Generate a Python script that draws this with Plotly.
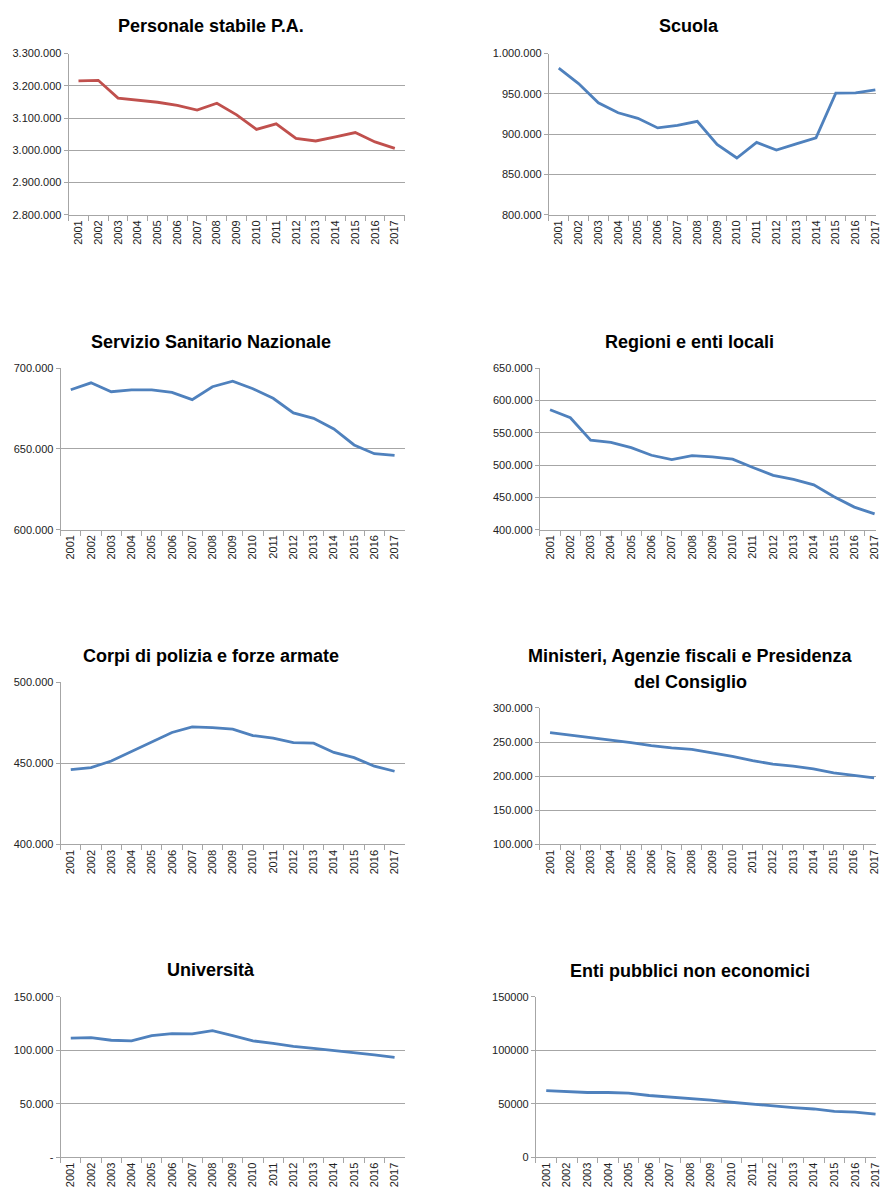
import plotly.graph_objects as go

W, H = 881, 1193

years = [str(y) for y in range(2001, 2018)]

titles = [
    ["Personale stabile P.A."],
    ["Scuola"],
    ["Servizio Sanitario Nazionale"],
    ["Regioni e enti locali"],
    ["Corpi di polizia e forze armate"],
    ["Ministeri, Agenzie fiscali e Presidenza", "del Consiglio"],
    ["Università"],
    ["Enti pubblici non economici"],
]

personale = [3215000, 3217000, 3162000, 3155000, 3149000, 3139000, 3125000, 3146000, 3110000,
             3065000, 3082000, 3037000, 3029000, 3042000, 3055000, 3026000, 3006000]
scuola = [982000, 962700, 939000, 926600, 919700, 907800, 911000, 916000, 887300,
          870500, 889800, 880300, 888000, 895500, 950800, 951200, 955000]
ssn = [686700, 691000, 685500, 686700, 686700, 685100, 680600, 688600, 692000,
       687300, 681400, 672400, 669000, 662400, 652500, 647100, 646000]
regioni = [585700, 573500, 538800, 535200, 527000, 515300, 508700, 514800, 512800,
           509200, 496400, 484200, 478000, 469400, 451000, 435000, 424500]
polizia = [446100, 447300, 451400, 457100, 463100, 469000, 472400, 472000, 471000,
           467100, 465500, 462700, 462400, 456700, 453500, 448200, 445100]
ministeri = [263600, 260200, 256300, 252400, 249000, 244700, 241300, 239300, 234500,
             229100, 222800, 217500, 214600, 210700, 204900, 201000, 197500]
universita = [111400, 112000, 109500, 108900, 113800, 115700, 115400, 118500, 113800,
              108900, 106500, 103700, 101800, 100000, 97800, 95700, 93500]
enti = [62300, 61500, 60600, 60600, 60000, 57800, 56500, 54600, 53400,
        51500, 49600, 48000, 46500, 45200, 43000, 42200, 40300]

series = [personale, scuola, ssn, regioni, polizia, ministeri, universita, enti]

yticks_vals = [
    [2800000, 2900000, 3000000, 3100000, 3200000, 3300000],
    [800000, 850000, 900000, 950000, 1000000],
    [600000, 650000, 700000],
    [400000, 450000, 500000, 550000, 600000, 650000],
    [400000, 450000, 500000],
    [100000, 150000, 200000, 250000, 300000],
    [0, 50000, 100000, 150000],
    [0, 50000, 100000, 150000],
]
yticks_text = [
    ["2.800.000", "2.900.000", "3.000.000", "3.100.000", "3.200.000", "3.300.000"],
    ["800.000", "850.000", "900.000", "950.000", "1.000.000"],
    ["600.000", "650.000", "700.000"],
    ["400.000", "450.000", "500.000", "550.000", "600.000", "650.000"],
    ["400.000", "450.000", "500.000"],
    ["100.000", "150.000", "200.000", "250.000", "300.000"],
    ["-", "50.000", "100.000", "150.000"],
    ["0", "50000", "100000", "150000"],
]

colors = ["#C0504D"] + ["#4F81BD"] * 7

# layout (pixels): x-left, x-right, y-top, y-bottom, category width, title x, title line y's
boxes = [
    (69, 407, 48, 211, None, 212, [20]),
    (552, 881, 48, 211, 19.9, 693, [20]),
    (61, 407, 366, 529, None, 212, [339]),
    (543, 881, 366, 529, 20.4, 693, [339]),
    (61, 407, 683, 847, None, 212, [657]),
    (543, 881, 709, 847, 20.37, 694, [657, 683]),
    (61, 407, 1001, 1163, None, 212, [974]),
    (539, 881, 1001, 1163, 20.7, 694, [975]),
]

fig = go.Figure()
font = "Liberation Sans, Arial, Helvetica, sans-serif"
grid = "#A6A6A6"

for i, (x0, x1, y0, y1, cw, tx, tys) in enumerate(boxes):
    n = i + 1
    xa = "x" if n == 1 else f"x{n}"
    ya = "y" if n == 1 else f"y{n}"
    fig.add_trace(go.Scatter(x=years, y=series[i], mode="lines",
                             line=dict(color=colors[i], width=2.8),
                             xaxis=xa, yaxis=ya, showlegend=False,
                             hoverinfo="x+y"))
    if cw is None:
        xr = [-0.5, 16.5]
    else:
        xr = [-0.5, -0.5 + (x1 - x0) / cw]
    lo, hi = yticks_vals[i][0], yticks_vals[i][-1]
    xkey = "xaxis" if n == 1 else f"xaxis{n}"
    ykey = "yaxis" if n == 1 else f"yaxis{n}"
    fig.update_layout(**{
        xkey: dict(domain=[x0 / W, x1 / W], anchor=ya, type="category",
                   range=xr, tickson="boundaries", ticks="outside", ticklen=5,
                   tickcolor=grid, tickwidth=1, showline=True, linecolor=grid,
                   linewidth=1, showgrid=False, tickangle=-90,
                   tickfont=dict(family=font, size=11, color="#222"),
                   fixedrange=True),
        ykey: dict(domain=[1 - y1 / H, 1 - y0 / H], anchor=xa,
                   range=[lo, hi], tickvals=yticks_vals[i], ticktext=yticks_text[i],
                   ticks="outside", ticklen=4, tickcolor=grid, showline=True,
                   linecolor=grid, linewidth=1, showgrid=True, gridcolor=grid,
                   gridwidth=1, zeroline=False,
                   tickfont=dict(family=font, size=11, color="#222"),
                   fixedrange=True),
    })
    for line_text, ty in zip(titles[i], tys):
        fig.add_annotation(text=f"<b>{line_text}</b>", x=tx / W, y=1 - ty / H,
                           xref="paper", yref="paper", showarrow=False,
                           xanchor="center", yanchor="middle",
                           font=dict(family=font, size=18, color="#000"))

fig.update_layout(width=W, height=H, margin=dict(l=0, r=0, t=0, b=0),
                  paper_bgcolor="white", plot_bgcolor="white")

fig.write_html("out.html")
